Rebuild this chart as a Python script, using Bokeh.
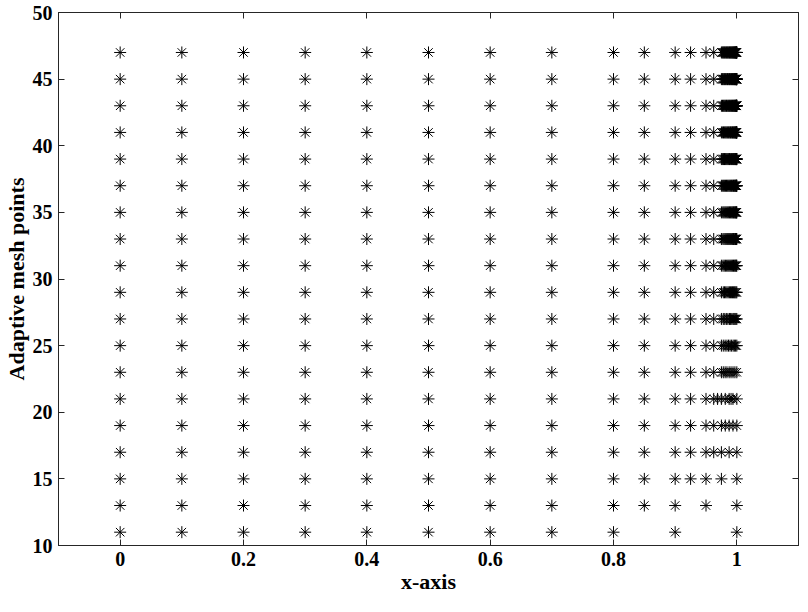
from bokeh.plotting import figure
from bokeh.models import ColumnDataSource, LinearAxis, FixedTicker
from bokeh.embed import file_html
from bokeh.resources import INLINE

# ---- data ----
levels = [11, 13, 15, 17, 19, 21, 23, 25, 27, 29, 31, 33, 35, 37, 39, 41, 43, 45, 47]
x_left = [0.0, 0.1, 0.2, 0.3, 0.4, 0.5, 0.6, 0.7, 0.8]

tail_11 = [0.9, 1.0]
tail_13 = [0.85, 0.9, 0.95, 1.0]
tail_15 = [0.85, 0.9, 0.925, 0.95, 0.975, 1.0]
tail_17 = [0.85, 0.9, 0.925, 0.95, 0.9625, 0.975, 0.9875, 1.0]
tail_19 = [0.85, 0.9, 0.925, 0.95, 0.9625, 0.975, 0.98125, 0.9875, 0.99375, 1.0]
tail_21 = [0.85, 0.9, 0.925, 0.95, 0.9625, 0.96875, 0.975, 0.98125, 0.9875, 0.99063, 0.99375, 1.0]

refine_prefix = [0.85, 0.9, 0.925, 0.95, 0.9625, 0.975]
cluster_23 = [0.978, 0.981, 0.984, 0.9875, 0.9906, 0.9938, 0.9969, 1.0]
cluster_25 = [0.978, 0.981, 0.984, 0.9865, 0.989, 0.9915, 0.994, 0.996, 0.998, 1.0]
cluster_27 = [0.978, 0.9805, 0.983, 0.9855, 0.988, 0.99, 0.992, 0.994, 0.9955, 0.997, 0.9985, 1.0]
cluster_29 = [0.978, 0.98, 0.982, 0.984, 0.986, 0.988, 0.9898, 0.9915, 0.993, 0.9945,
              0.996, 0.9973, 0.9987, 1.0]
cluster_31 = [0.9775, 0.9795, 0.9815, 0.9835, 0.9853, 0.987, 0.9887, 0.9903, 0.9918, 0.9932,
              0.9946, 0.9959, 0.9971, 0.9982, 0.9992, 1.0]
cluster_33 = [0.9775, 0.9793, 0.9811, 0.9828, 0.9845, 0.9861, 0.9877, 0.9892, 0.9906, 0.992,
              0.9933, 0.9945, 0.9957, 0.9968, 0.9978, 0.9987, 0.9994, 1.0]
cluster_35 = [0.9772, 0.9789, 0.9806, 0.9822, 0.9838, 0.9853, 0.9868, 0.9882, 0.9896, 0.9909,
              0.9922, 0.9934, 0.9945, 0.9956, 0.9966, 0.9975, 0.9983, 0.999, 0.9996, 1.0]
cluster_37 = [0.977, 0.9786, 0.9802, 0.9817, 0.9832, 0.9846, 0.986, 0.9874, 0.9887, 0.99,
              0.9912, 0.9924, 0.9935, 0.9946, 0.9956, 0.9965, 0.9974, 0.9982, 0.9989, 0.9994,
              0.9998, 1.0]
cluster_39 = [0.977, 0.9785, 0.98, 0.9814, 0.9828, 0.9842, 0.9855, 0.9868, 0.9881, 0.9893,
              0.9905, 0.9916, 0.9927, 0.9938, 0.9948, 0.9957, 0.9966, 0.9974, 0.9981, 0.9987,
              0.9992, 0.9996, 0.9999, 1.0]
cluster_41 = [0.977, 0.9784, 0.9798, 0.9812, 0.9825, 0.9838, 0.9851, 0.9863, 0.9875, 0.9887,
              0.9898, 0.9909, 0.992, 0.993, 0.994, 0.9949, 0.9958, 0.9966, 0.9974, 0.9981,
              0.9987, 0.9992, 0.9995, 0.9997, 0.9999, 1.0]
cluster_43 = [0.9768, 0.9781, 0.9794, 0.9807, 0.982, 0.9832, 0.9844, 0.9856, 0.9868, 0.9879,
              0.989, 0.9901, 0.9911, 0.9921, 0.9931, 0.994, 0.9949, 0.9957, 0.9965, 0.9972,
              0.9979, 0.9985, 0.999, 0.9994, 0.9996, 0.9998, 0.9999, 1.0]
cluster_45 = [0.9766, 0.9778, 0.979, 0.9802, 0.9814, 0.9826, 0.9838, 0.9849, 0.986, 0.9871,
              0.9882, 0.9892, 0.9902, 0.9912, 0.9922, 0.9931, 0.994, 0.9948, 0.9956, 0.9963,
              0.997, 0.9976, 0.9982, 0.9987, 0.9991, 0.9994, 0.9996, 0.9998, 0.9999, 1.0]
cluster_47 = [0.9765, 0.9776, 0.9787, 0.9798, 0.9809, 0.982, 0.9831, 0.9841, 0.9851, 0.9861,
              0.9871, 0.9881, 0.989, 0.9899, 0.9908, 0.9917, 0.9925, 0.9933, 0.9941, 0.9948,
              0.9955, 0.9962, 0.9968, 0.9974, 0.9979, 0.9984, 0.9988, 0.9992, 0.9995, 0.9997,
              0.9999, 1.0]

x_ticks = [0.0, 0.2, 0.4, 0.6, 0.8, 1.0]
x_tick_labels = ["0", "0.2", "0.4", "0.6", "0.8", "1"]
y_ticks = [10, 15, 20, 25, 30, 35, 40, 45, 50]

row_tails = {
    11: tail_11, 13: tail_13, 15: tail_15, 17: tail_17, 19: tail_19, 21: tail_21,
    23: refine_prefix + cluster_23, 25: refine_prefix + cluster_25,
    27: refine_prefix + cluster_27, 29: refine_prefix + cluster_29,
    31: refine_prefix + cluster_31, 33: refine_prefix + cluster_33,
    35: refine_prefix + cluster_35, 37: refine_prefix + cluster_37,
    39: refine_prefix + cluster_39, 41: refine_prefix + cluster_41,
    43: refine_prefix + cluster_43, 45: refine_prefix + cluster_45,
    47: refine_prefix + cluster_47,
}

xs, ys = [], []
for n in levels:
    row = x_left + row_tails[n]
    xs.extend(row)
    ys.extend([n] * len(row))
source = ColumnDataSource(data=dict(x=xs, y=ys))

# ---- figure ----
FONT = "Liberation Serif"
AX = "#262626"
FS = "20px"
FS_LABEL = "22px"

p = figure(width=800, height=596, x_range=(-0.1, 1.1), y_range=(10, 50),
           output_backend="svg", toolbar_location=None,
           min_border_left=0, min_border_right=2, min_border_top=12, min_border_bottom=0)
p.background_fill_color = "white"
p.border_fill_color = "white"
p.outline_line_color = AX
p.outline_line_width = 1
p.xgrid.visible = False
p.ygrid.visible = False

p.scatter("x", "y", source=source, marker="asterisk", size=12,
          line_color="black", line_width=1)

for ax in p.xaxis:
    ax.ticker = FixedTicker(ticks=x_ticks)
    ax.major_label_overrides = {t: l for t, l in zip(x_ticks, x_tick_labels)}
for ax in p.yaxis:
    ax.ticker = FixedTicker(ticks=y_ticks)

for ax in list(p.xaxis) + list(p.yaxis):
    ax.major_tick_in = 6
    ax.major_tick_out = 0
    ax.minor_tick_line_color = None
    ax.axis_line_color = AX
    ax.major_tick_line_color = AX
    ax.major_label_text_font = FONT
    ax.major_label_text_font_style = "bold"
    ax.major_label_text_font_size = FS
    ax.major_label_text_color = "black"
    ax.axis_label_text_font = FONT
    ax.axis_label_text_font_style = "bold"
    ax.axis_label_text_font_size = FS_LABEL
    ax.axis_label_text_color = "black"

p.xaxis.axis_label = "x-axis"
p.yaxis.axis_label = "Adaptive mesh points"
p.xaxis.major_label_standoff = 6
p.xaxis.axis_label_standoff = 0
p.yaxis.major_label_standoff = 6
p.yaxis.axis_label_standoff = 1

top = LinearAxis(ticker=FixedTicker(ticks=x_ticks), major_tick_in=6, major_tick_out=0,
                 minor_tick_line_color=None, axis_line_color=AX, major_tick_line_color=AX,
                 major_label_text_font_size="1px", major_label_text_color=None,
                 major_label_standoff=0)
right = LinearAxis(ticker=FixedTicker(ticks=y_ticks), major_tick_in=6, major_tick_out=0,
                   minor_tick_line_color=None, axis_line_color=AX, major_tick_line_color=AX,
                   major_label_text_font_size="1px", major_label_text_color=None,
                   major_label_standoff=0)
p.add_layout(top, "above")
p.add_layout(right, "right")

open("out.html", "w").write(file_html(p, INLINE))
